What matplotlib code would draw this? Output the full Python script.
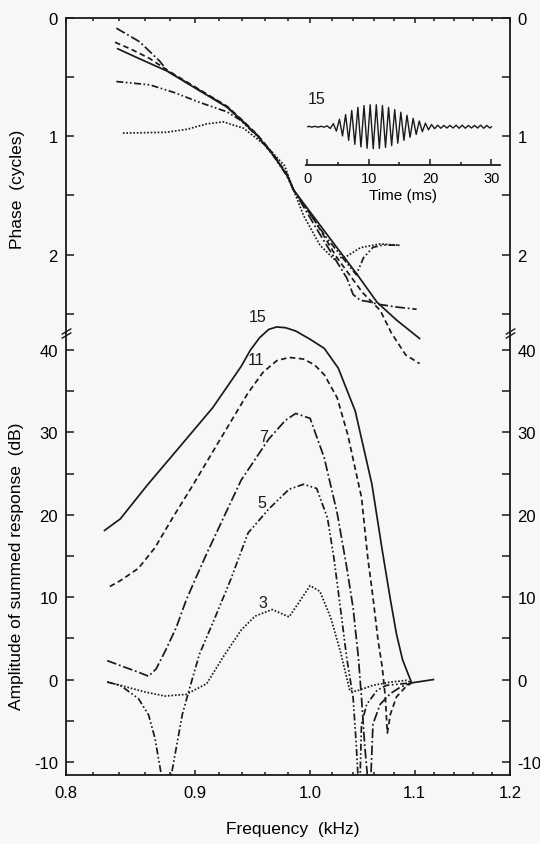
import numpy as np
import matplotlib.pyplot as plt
from matplotlib.patches import Rectangle
from matplotlib.ticker import NullFormatter

plt.rcParams['font.family'] = ['Liberation Sans', 'DejaVu Sans']
plt.rcParams['lines.scale_dashes'] = False

# phase of the summed response (cycles), top panel
phase_f15 = [0.839, 0.856, 0.878, 0.904, 0.927, 0.938, 0.953, 0.967, 0.979, 0.985, 1.014, 1.044, 1.063, 1.082, 1.105]
phase_15 = [0.26, 0.345, 0.45, 0.614, 0.754, 0.853, 0.994, 1.16, 1.327, 1.453, 1.811, 2.17, 2.403, 2.553, 2.709]
phase_f11 = [0.837, 0.849, 0.864, 0.878, 0.904, 0.927, 0.938, 0.953, 0.967, 0.979, 0.985, 1.003, 1.025, 1.049, 1.066, 1.077, 1.091, 1.105]
phase_11 = [0.205, 0.262, 0.343, 0.442, 0.605, 0.746, 0.845, 0.986, 1.151, 1.319, 1.453, 1.695, 2.029, 2.321, 2.471, 2.663, 2.847, 2.921]
phase_f7 = [0.838, 0.856, 0.872, 0.878, 0.904, 0.927, 0.938, 0.953, 0.967, 0.979, 0.985, 1.009, 1.034, 1.040, 1.047, 1.054, 1.063, 1.082, 1.102]
phase_7 = [0.086, 0.201, 0.367, 0.45, 0.61, 0.75, 0.85, 0.99, 1.155, 1.323, 1.453, 1.829, 2.197, 2.337, 2.387, 2.396, 2.418, 2.443, 2.462]
phase_f5 = [0.838, 0.864, 0.884, 0.904, 0.927, 0.938, 0.953, 0.967, 0.979, 0.985, 1.014, 1.043, 1.050, 1.059, 1.069, 1.085]
phase_5 = [0.537, 0.565, 0.632, 0.713, 0.793, 0.861, 0.998, 1.165, 1.333, 1.453, 1.845, 2.17, 2.025, 1.939, 1.918, 1.921]
phase_f3 = [0.843, 0.877, 0.894, 0.910, 0.924, 0.935, 0.941, 0.961, 0.977, 0.985, 0.994, 1.009, 1.022, 1.034, 1.047, 1.066, 1.085]
phase_3 = [0.973, 0.966, 0.94, 0.895, 0.878, 0.913, 0.931, 1.083, 1.249, 1.453, 1.669, 1.92, 2.038, 2.014, 1.941, 1.91, 1.921]

# amplitude of the summed response (dB), bottom panel
amp_f15 = [0.829, 0.841, 0.8625, 0.887, 0.915, 0.939, 0.947, 0.955, 0.963, 0.970, 0.978, 0.987, 1.000, 1.013, 1.026,
           1.042, 1.058, 1.068, 1.076, 1.082, 1.088, 1.097, 1.108, 1.119]
amp_15 = [18.1, 19.5, 23.7, 28.1, 33.0, 38.0, 40.0, 41.5, 42.5, 42.8, 42.7, 42.3, 41.3, 40.2, 37.8,
          32.6, 23.7, 15.7, 9.7, 5.5, 2.4, -0.4, -0.2, 0.0]
amp_f11 = [0.833, 0.841, 0.855, 0.868, 0.882, 0.899, 0.921, 0.945, 0.958, 0.970, 0.981, 0.994, 1.004, 1.013, 1.025,
           1.035, 1.048, 1.054, 1.059, 1.064, 1.068, 1.071, 1.073, 1.076, 1.082, 1.091, 1.097]
amp_11 = [11.3, 12.0, 13.5, 16.0, 19.6, 23.7, 29.1, 34.8, 37.3, 38.7, 39.1, 38.9, 38.2, 37.0, 34.2,
          29.7, 22.1, 14.8, 10.0, 4.7, 1.5, -2.1, -6.5, -4.2, -2.1, -0.9, -0.4]
amp_f7 = [0.831, 0.841, 0.855, 0.863, 0.869, 0.876, 0.885, 0.893, 0.900, 0.910, 0.939, 0.963, 0.978, 0.987, 1.000,
          1.013, 1.025, 1.034, 1.040, 1.045, 1.048, 1.051, 1.056, 1.059, 1.066, 1.076, 1.086, 1.097]
amp_7 = [2.3, 1.7, 0.9, 0.4, 1.3, 3.4, 6.3, 9.6, 12.0, 15.3, 24.2, 29.2, 31.5, 32.3, 31.7,
         26.9, 20.2, 13.6, 8.7, 2.7, -2.2, -7.9, -15.0, -5.4, -3.0, -1.7, -0.9, -0.4]
amp_f5 = [0.831, 0.841, 0.855, 0.863, 0.868, 0.877, 0.886, 0.890, 0.896, 0.904, 0.916, 0.930, 0.945, 0.963, 0.981,
          0.994, 1.006, 1.016, 1.022, 1.028, 1.034, 1.040, 1.043, 1.046, 1.048, 1.053, 1.063, 1.072, 1.097]
amp_5 = [-0.3, -0.7, -2.3, -4.3, -7.1, -15.0, -7.5, -4.2, -1.0, 3.1, 7.2, 12.1, 17.8, 20.7, 23.1,
         23.7, 23.2, 19.6, 14.7, 8.7, 2.6, -2.2, -7.9, -15.0, -5.4, -3.0, -1.3, -0.7, -0.4]
amp_f3 = [0.831, 0.841, 0.860, 0.876, 0.893, 0.910, 0.924, 0.939, 0.951, 0.966, 0.981, 0.990, 1.000, 1.009, 1.019,
          1.028, 1.037, 1.043, 1.059, 1.076, 1.092, 1.097]
amp_3 = [-0.3, -0.7, -1.5, -2.0, -1.8, -0.5, 2.8, 6.0, 7.7, 8.5, 7.6, 9.4, 11.4, 10.7, 7.5,
         3.4, -1.4, -1.4, -0.7, -0.3, -0.1, -0.4]

# curve labels (frequency, dB)
label_text = ['15', '11', '7', '5', '3']
label_f = [0.9536, 0.9523, 0.9583, 0.9568, 0.9575]
label_db = [44.1, 38.8, 29.5, 21.5, 9.3]

# inset waveform for 15 components: peak and trough of each 1 ms cycle
wave_pos = [0.02, 0.02, 0.02, 0.04, 0.14, 0.34, 0.55, 0.74, 0.88, 0.96, 1.0, 1.0, 0.96, 0.88, 0.78,
            0.66, 0.52, 0.38, 0.26, 0.16, 0.1, 0.07, 0.06, 0.06, 0.07, 0.07, 0.06, 0.06, 0.07, 0.06]
wave_neg = [-0.02, -0.02, -0.02, -0.08, -0.2, -0.42, -0.62, -0.8, -0.92, -0.98, -1.0, -0.99, -0.94, -0.86, -0.75,
            -0.62, -0.48, -0.35, -0.23, -0.14, -0.09, -0.07, -0.06, -0.06, -0.07, -0.07, -0.06, -0.06, -0.07, -0.06]

freq_ticks = [0.8, 0.9, 1.0, 1.1, 1.2]
freq_labels = ['0.8', '0.9', '1.0', '1.1', '1.2']
freq_minor = [0.82, 0.84, 0.86, 0.88, 0.92, 0.94, 0.96, 0.98, 1.02, 1.04, 1.06, 1.08, 1.12, 1.14, 1.16, 1.18]
phase_ticks = [0, 1, 2]
phase_minor = [0.5, 1.5, 2.5]
amp_ticks = [-10, 0, 10, 20, 30, 40]
amp_labels = ['-10', '0', '10', '20', '30', '40']
amp_minor = [-5, 5, 15, 25, 35]

ink = '#1a1a1a'
styles = {'15': '-', '11': (0, (4, 2.5)), '7': (0, (7, 2, 1.3, 2)),
          '5': (0, (5, 1.8, 1.2, 1.8, 1.2, 1.8)), '3': (0, (1.2, 1.3))}

fig = plt.figure(figsize=(5.4, 8.45), dpi=100, facecolor='#f7f7f7')
ax_ph = fig.add_axes([0.1213, 0.6051, 0.8231, 0.3724])
ax_amp = fig.add_axes([0.1213, 0.0811, 0.8231, 0.5240])

for ax in (ax_ph, ax_amp):
    ax.set_facecolor('none')
    ax.set_xscale('log')
    ax.set_xlim(0.8, 1.2)
    ax.set_xticks(freq_ticks)
    ax.set_xticks(freq_minor, minor=True)
    ax.xaxis.set_minor_formatter(NullFormatter())
    for s in ax.spines.values():
        s.set_linewidth(1.3)
        s.set_color(ink)
    ax.tick_params(axis='x', which='major', direction='in', length=3.8, width=1.1, color=ink)
    ax.tick_params(axis='x', which='minor', direction='in', length=2.3, width=1.1, color=ink)
    ax.tick_params(axis='y', which='both', direction='in', length=5.5, width=1.1, color=ink,
                   left=True, right=True, labelleft=True, labelright=True, labelsize=12, pad=5.5)

# top panel
ax_ph.spines['bottom'].set_visible(False)
ax_ph.tick_params(axis='x', which='both', top=True, bottom=False, labelbottom=False)
ax_ph.set_ylim(2.66, 0)
ax_ph.set_yticks(phase_ticks)
ax_ph.set_yticks(phase_minor, minor=True)
ax_ph.set_yticklabels(['0', '1', '2'])

phase_sets = [('15', phase_f15, phase_15), ('11', phase_f11, phase_11), ('7', phase_f7, phase_7),
              ('5', phase_f5, phase_5), ('3', phase_f3, phase_3)]
for name, f, p in phase_sets:
    ax_ph.plot(f, p, linestyle=styles[name], lw=1.25, color=ink, clip_on=False)

# bottom panel
ax_amp.spines['top'].set_visible(False)
ax_amp.tick_params(axis='x', which='both', top=False, bottom=True, labelsize=12, pad=7)
ax_amp.set_xticklabels(freq_labels)
ax_amp.set_ylim(-11.64, 42.1)
ax_amp.set_yticks(amp_ticks)
ax_amp.set_yticks(amp_minor, minor=True)
ax_amp.set_yticklabels(amp_labels)

clip = Rectangle((0, 0), 1, 1.3, transform=ax_amp.transAxes, facecolor='none', edgecolor='none')
amp_sets = [('15', amp_f15, amp_15), ('11', amp_f11, amp_11), ('7', amp_f7, amp_7),
            ('5', amp_f5, amp_5), ('3', amp_f3, amp_3)]
for name, f, a in amp_sets:
    line, = ax_amp.plot(f, a, linestyle=styles[name], lw=1.25, color=ink)
    line.set_clip_path(clip)

for t, f, a in zip(label_text, label_f, label_db):
    ax_amp.text(f, a, t, ha='center', va='center', fontsize=11.5, color=ink)

# axis break marks
brk = dict(marker=[(-1, -0.6), (1, 0.6)], markersize=7, linestyle='none', color=ink,
           mec=ink, mew=1.0, clip_on=False)
for dy in (-0.0045, 0.0045):
    ax_amp.plot([0, 1], [1 + dy, 1 + dy], transform=ax_amp.transAxes, **brk)

# inset
ax_in = fig.add_axes([306 / 540, 1 - 166 / 845, 194 / 540, 66 / 845])
ax_in.set_facecolor('none')
for k in ('top', 'left', 'right'):
    ax_in.spines[k].set_visible(False)
ax_in.spines['bottom'].set_linewidth(1.3)
ax_in.spines['bottom'].set_color(ink)
ax_in.set_xlim(-0.2, 31.4)
ax_in.set_ylim(-1.74, 1.26)
ax_in.set_yticks([])
ax_in.set_xticks([0, 10, 20, 30])
ax_in.set_xticks([5, 15, 25], minor=True)
ax_in.tick_params(axis='x', which='major', direction='in', length=4, width=1.1, labelsize=10.5, pad=4.5, color=ink)
ax_in.tick_params(axis='x', which='minor', direction='in', length=2.5, width=1.1, color=ink)
wave_t = np.arange(len(wave_pos) * 2) * 0.5 + 0.25
wave_y = np.column_stack([wave_pos, wave_neg]).ravel()
ax_in.plot(np.r_[0.1, wave_t, 30.0], np.r_[0, wave_y, 0], lw=1.0, color=ink)
ax_in.set_xlabel('Time (ms)', fontsize=11, labelpad=2)
fig.text(308 / 540, 1 - 100 / 845, '15', fontsize=11.5, ha='left', va='center', color=ink)

fig.text(18 / 540, 1 - 189 / 845, 'Phase  (cycles)', rotation=90, ha='center', va='center', fontsize=12.5)
fig.text(17 / 540, 1 - 566 / 845, 'Amplitude of summed response  (dB)', rotation=90,
         ha='center', va='center', fontsize=12.5)
fig.text(293 / 540, 1 - 830 / 845, 'Frequency  (kHz)', ha='center', va='center', fontsize=12.5)

fig.savefig('out.png', dpi=100, facecolor=fig.get_facecolor())
